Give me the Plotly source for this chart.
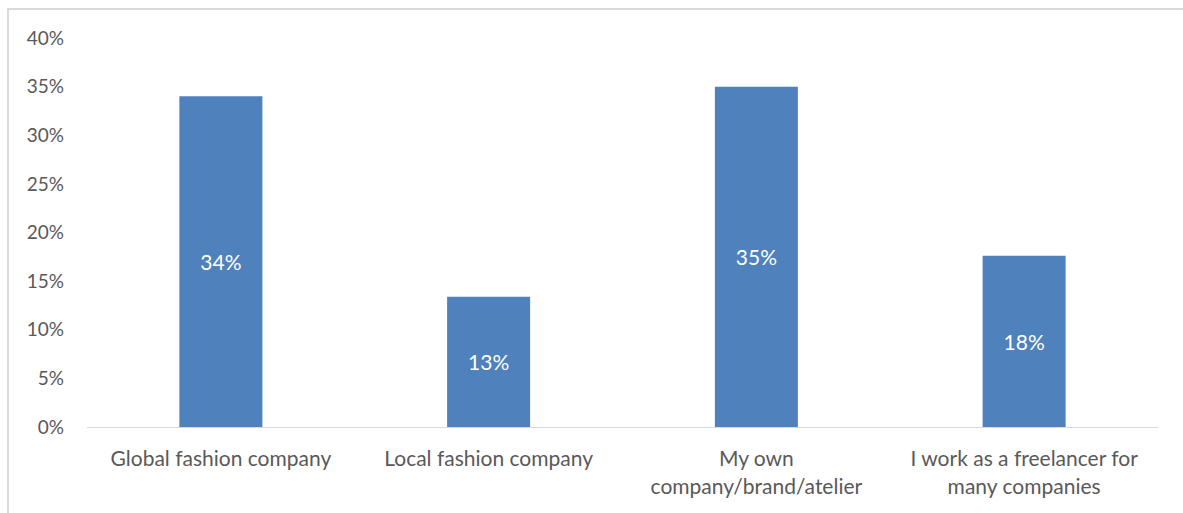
import plotly.graph_objects as go

# Survey responses: where respondents work
categories = [
    "Global fashion company",
    "Local fashion company",
    "My own<br>company/brand/atelier",
    "I work as a freelancer for<br>many companies",
]
shares = [0.340, 0.134, 0.350, 0.176]
y_ticks = [0, 0.05, 0.10, 0.15, 0.20, 0.25, 0.30, 0.35, 0.40]

GREY = "#595959"
FONT = "Lato"

fig = go.Figure(
    go.Bar(
        x=categories,
        y=shares,
        marker=dict(color="#4F81BD", line=dict(width=0)),
        texttemplate="%{y:.0%}",
        textposition="inside",
        insidetextanchor="middle",
        textfont=dict(color="white", size=21, family=FONT),
        hoverinfo="skip",
    )
)

fig.update_layout(
    width=1183,
    height=513,
    margin=dict(l=87, r=25, t=38, b=86),
    paper_bgcolor="white",
    plot_bgcolor="white",
    bargap=0.69,
    showlegend=False,
    font=dict(family=FONT, color=GREY, size=19),
    shapes=[
        # chart-area frame (runs off the right and bottom edges)
        dict(
            type="rect", xref="paper", yref="paper",
            x0=-79 / 1071, x1=1.1, y0=-0.5, y1=1 + 29 / 389,
            line=dict(color="#D9D9D9", width=2),
            layer="below",
        )
    ],
)

fig.update_xaxes(
    showgrid=False,
    showline=True,
    linecolor="#D9D9D9",
    linewidth=1,
    ticks="",
    tickfont=dict(size=21, color=GREY, family=FONT),
    ticklabelstandoff=13,
)
fig.update_yaxes(
    range=[0, 0.40],
    tickvals=y_ticks,
    tickformat=".0%",
    showgrid=False,
    zeroline=False,
    showline=False,
    ticks="",
    tickfont=dict(size=19, color=GREY, family=FONT),
    ticklabelstandoff=22,
)

fig.write_html("out.html")
